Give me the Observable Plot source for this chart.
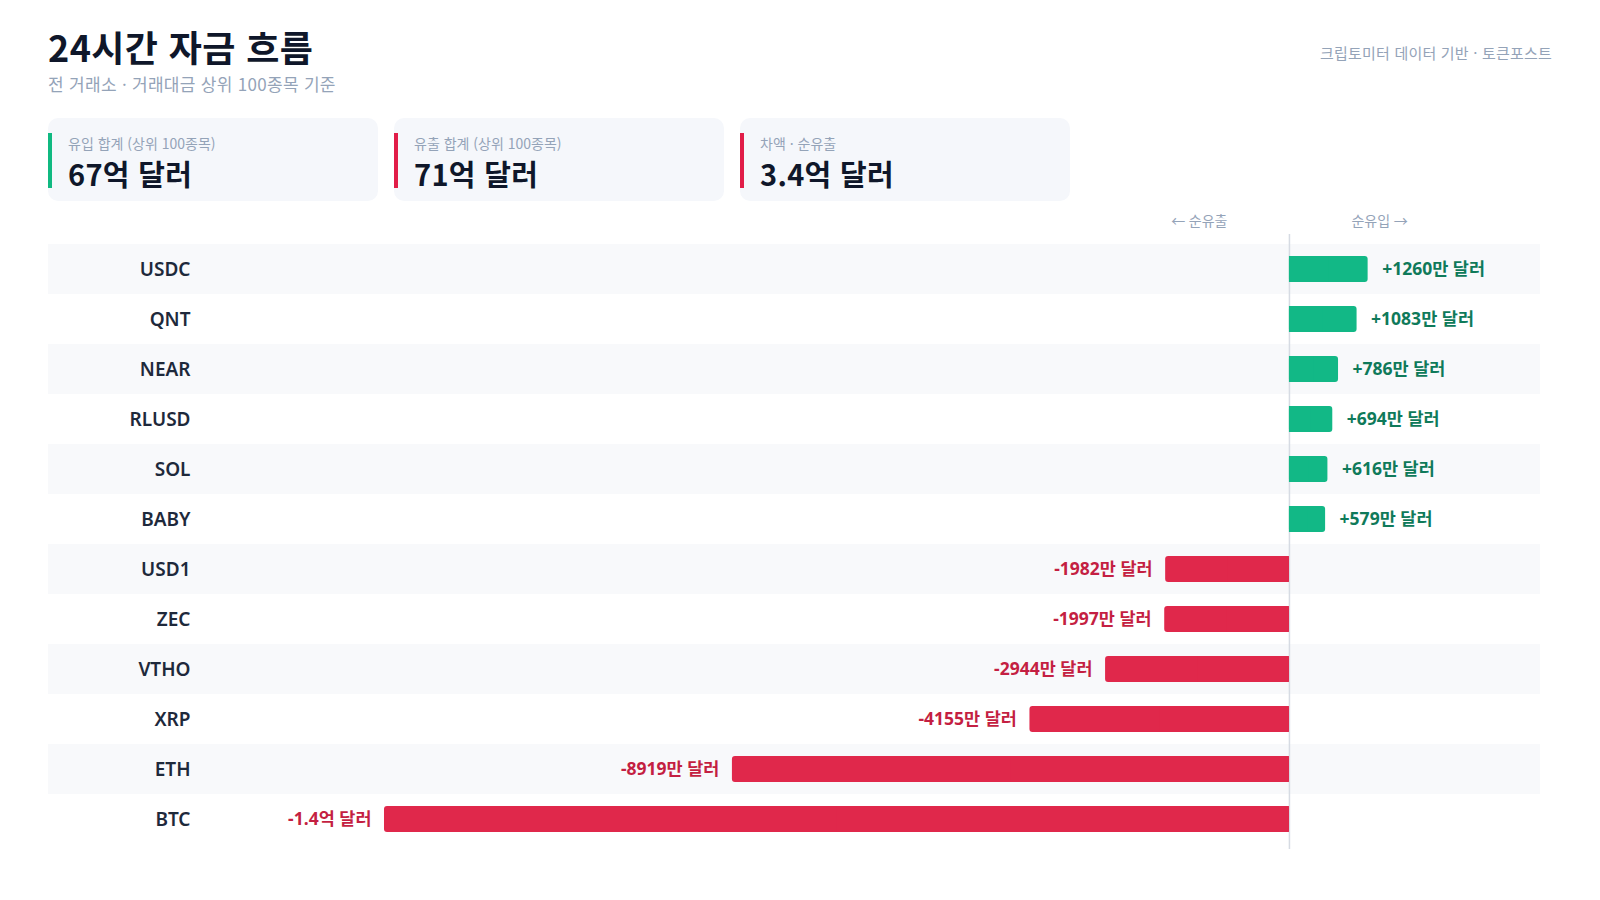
<!DOCTYPE html>
<html lang="ko">
<head>
<meta charset="utf-8">
<script src="https://cdn.jsdelivr.net/npm/d3@7"></script>
<script src="https://cdn.jsdelivr.net/npm/@observablehq/plot@0.6"></script>
<style>
  html, body { margin: 0; padding: 0; background: #ffffff; }
  body { width: 1600px; height: 900px; position: relative; overflow: hidden;
         font-family: "Noto Sans", "Noto Sans CJK KR", sans-serif; }
  .title { position: absolute; left: 48px; top: 22px; font-family: "Noto Sans CJK KR", sans-serif;
           font-size: 36px; font-weight: 700; color: #0f172a; line-height: 48px; letter-spacing: 0.4px; }
  .subtitle { position: absolute; left: 48px; top: 72px; font-family: "Noto Sans CJK KR", sans-serif;
              font-size: 17px; color: #94a3b8; line-height: 24px; letter-spacing: 0.3px; }
  .source { position: absolute; right: 48px; top: 43px; font-family: "Noto Sans CJK KR", sans-serif;
            font-size: 15px; color: #94a3b8; line-height: 20px; letter-spacing: 0.2px; }
  .card { position: absolute; top: 118px; width: 330px; height: 83px; background: #f5f7fb;
          border-radius: 10px; }
  .card .accent { position: absolute; left: 0; top: 15px; width: 4px; height: 55px; }
  .card .lab { position: absolute; left: 20px; top: 16px; font-family: "Noto Sans CJK KR", sans-serif;
               font-size: 14px; color: #94a3b8; line-height: 18px; }
  .card .val { position: absolute; left: 20px; top: 37px; font-family: "Noto Sans CJK KR", sans-serif;
               font-size: 29px; font-weight: 700; color: #0f172a; line-height: 36px; letter-spacing: 0.3px; }
  #chart { position: absolute; left: 0; top: 205px; }
</style>
</head>
<body>
<div class="title">24시간 자금 흐름</div>
<div class="subtitle">전 거래소 · 거래대금 상위 100종목 기준</div>
<div class="source">크립토미터 데이터 기반 · 토큰포스트</div>
<div id="cards"></div>
<div id="chart"></div>
<script>
// Data (values in 만 달러 = 10,000 USD)
const tickers = ["USDC", "QNT", "NEAR", "RLUSD", "SOL", "BABY", "USD1", "ZEC", "VTHO", "XRP", "ETH", "BTC"];
const netFlows = [1260, 1083, 786, 694, 616, 579, -1982, -1997, -2944, -4155, -8919, -14490];

const cardLabels = ["유입 합계 (상위 100종목)", "유출 합계 (상위 100종목)", "차액 · 순유출"];
const cardValues = ["67억 달러", "71억 달러", "3.4억 달러"];
const cardAccents = ["#10b981", "#e11d48", "#e11d48"];

const inflowLabel = "순유입 →";
const outflowLabel = "← 순유출";

// Cards
const cardsEl = document.getElementById("cards");
cardLabels.forEach((lab, i) => {
  const c = document.createElement("div");
  c.className = "card";
  c.style.left = (48 + i * 346) + "px";
  c.innerHTML = `<div class="accent" style="background:${cardAccents[i]}"></div>
    <div class="lab">${lab}</div><div class="val">${cardValues[i]}</div>`;
  cardsEl.appendChild(c);
});

function fmt(v) {
  const a = Math.abs(v);
  const sign = v >= 0 ? "+" : "-";
  if (a >= 10000) return sign + (a / 10000).toFixed(1) + "억 달러";
  return sign + a + "만 달러";
}

const rows = tickers.map((t, i) => ({ticker: t, value: netFlows[i], idx: i, label: fmt(netFlows[i])}));
const pos = rows.filter(d => d.value >= 0);
const neg = rows.filter(d => d.value < 0);
const barColor = d => d.value >= 0 ? "#12b886" : "#e0284b";

const chart = Plot.plot({
  width: 1600,
  height: 660,
  marginLeft: 48,
  marginRight: 60,
  marginTop: 39,
  marginBottom: 21,
  style: {fontFamily: "'Noto Sans', 'Noto Sans CJK KR', sans-serif", background: "transparent"},
  x: {domain: [-19870, 4020], axis: null},
  y: {domain: tickers, padding: 0, axis: null},
  marks: [
    Plot.cell(rows.filter(d => d.idx % 2 === 0), {y: "ticker", fill: "#f8f9fb"}),
    Plot.ruleX([0], {stroke: "#d6dbe3", strokeWidth: 1.5, insetTop: -10, insetBottom: -5}),
    // rounded bar (outer end rounded)
    Plot.barX(rows, {y: "ticker", x: "value", fill: barColor, insetTop: 12, insetBottom: 12, rx: 3}),
    // square-off the end at zero
    Plot.barX(rows, {y: "ticker", x1: 0, x2: d => d.value / 2, fill: barColor, insetTop: 12, insetBottom: 12}),
    Plot.text(rows, {y: "ticker", text: "ticker", frameAnchor: "left", dx: 142, textAnchor: "end",
      fontSize: 19, fontWeight: 600, fill: "#1e293b"}),
    Plot.text(pos, {y: "ticker", x: "value", text: "label", dx: 14, textAnchor: "start",
      fontSize: 17.5, fontWeight: 700, fill: "#0f7a5a", style: "letter-spacing:0.3px"}),
    Plot.text(neg, {y: "ticker", x: "value", text: "label", dx: -13, textAnchor: "end",
      fontSize: 17.5, fontWeight: 700, fill: "#c41f42", style: "letter-spacing:0.3px"}),
    Plot.text([outflowLabel], {x: 0, text: d => d, frameAnchor: "top", dy: -28, dx: -62,
      textAnchor: "end", fontSize: 14, fill: "#94a3b8"}),
    Plot.text([inflowLabel], {x: 0, text: d => d, frameAnchor: "top", dy: -28, dx: 62,
      textAnchor: "start", fontSize: 14, fill: "#94a3b8"})
  ]
});
document.getElementById("chart").appendChild(chart);
</script>
</body>
</html>
